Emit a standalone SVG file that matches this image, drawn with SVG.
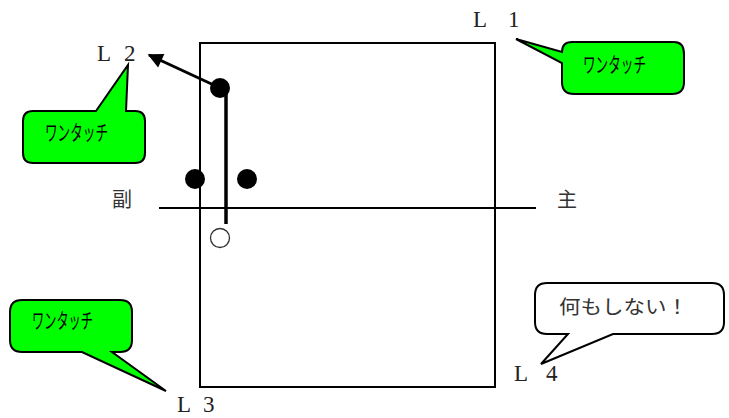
<svg xmlns="http://www.w3.org/2000/svg" width="729" height="418" viewBox="0 0 729 418">
<style>
.ln{stroke:#000;stroke-width:2;fill:none}
.lbl{font-family:"Liberation Serif","Noto Sans CJK JP",serif;font-size:23px;fill:#222}
.kan{font-family:"Noto Sans CJK JP",sans-serif;font-size:20px;fill:#333}
.bub{stroke:#000;stroke-width:2;fill:#00ff00}
.bubw{stroke:#000;stroke-width:2;fill:#fff}
.bt{font-family:"Noto Sans CJK JP",sans-serif;font-size:21px;fill:#000}
.dot{fill:#000}
</style>
<defs>
<marker id="ah" viewBox="0 0 10 10" refX="9" refY="5" markerWidth="5.5" markerHeight="5" orient="auto" markerUnits="strokeWidth">
<path d="M0,0 L10,5 L0,10 Z" fill="#000"/>
</marker>
</defs>
<rect id="frame" x="200" y="43" width="295" height="344" class="ln"/>
<g id="axis">
<line x1="159" y1="208" x2="536" y2="208" class="ln"/>
<text class="kan" x="112" y="207">副</text>
<text class="kan" x="557" y="207">主</text>
</g>
<g id="connectors">
<line x1="226" y1="88" x2="226" y2="224" stroke="#000" stroke-width="3.5"/>
<line x1="218" y1="87" x2="149" y2="55" stroke="#000" stroke-width="3" marker-end="url(#ah)"/>
</g>
<g id="dots">
<circle class="dot" cx="220" cy="88" r="10"/>
<circle class="dot" cx="195" cy="179" r="10"/>
<circle class="dot" cx="247" cy="179" r="10"/>
<circle cx="220" cy="238" r="9.5" fill="#fff" stroke="#333" stroke-width="1.3"/>
</g>
<g id="L1">
<text class="lbl" x="473" y="27">L</text>
<text class="lbl" x="508" y="27">1</text>
</g>
<g id="L2">
<text class="lbl" x="97" y="61">L</text>
<text class="lbl" x="124" y="61">2</text>
</g>
<g id="L3">
<text class="lbl" x="177" y="412">L</text>
<text class="lbl" x="203" y="412">3</text>
</g>
<g id="L4">
<text class="lbl" x="514" y="381">L</text>
<text class="lbl" x="546" y="381">4</text>
</g>
<g id="callout-L1">
<path class="bub" d="M572,42 L674,42 Q684,42 684,54 L684,82 Q684,94 672,94 L574,94 Q562,94 562,82 L562,63 L516,39 L562,52 Q562,42 572,42 Z"/>
<text class="bt" x="583" y="72" textLength="63" lengthAdjust="spacingAndGlyphs">ワンタッチ</text>
</g>
<g id="callout-L2">
<path class="bub" d="M33,111 L96,111 L128,65 L126,111 L135,111 Q145,111 145,121 L145,153 Q145,163 135,163 L33,163 Q23,163 23,153 L23,121 Q23,111 33,111 Z"/>
<text class="bt" x="45" y="140" textLength="63" lengthAdjust="spacingAndGlyphs">ワンタッチ</text>
</g>
<g id="callout-L3">
<path class="bub" d="M22,300 L120,300 Q132,300 132,312 L132,340 Q132,352 120,352 L112,352 L166,391 L82,352 L22,352 Q10,352 10,340 L10,312 Q10,300 22,300 Z"/>
<text class="bt" x="32" y="328" textLength="61" lengthAdjust="spacingAndGlyphs">ワンタッチ</text>
</g>
<g id="callout-L4">
<path class="bubw" d="M547,283 L712,283 Q724,283 724,295 L724,322 Q724,334 712,334 L613,334 L541,364 L568,334 L547,334 Q535,334 535,322 L535,295 Q535,283 547,283 Z"/>
<text class="kan" x="559" y="314" textLength="129" lengthAdjust="spacingAndGlyphs" style="font-size:19px">何もしない！</text>
</g>
</svg>
